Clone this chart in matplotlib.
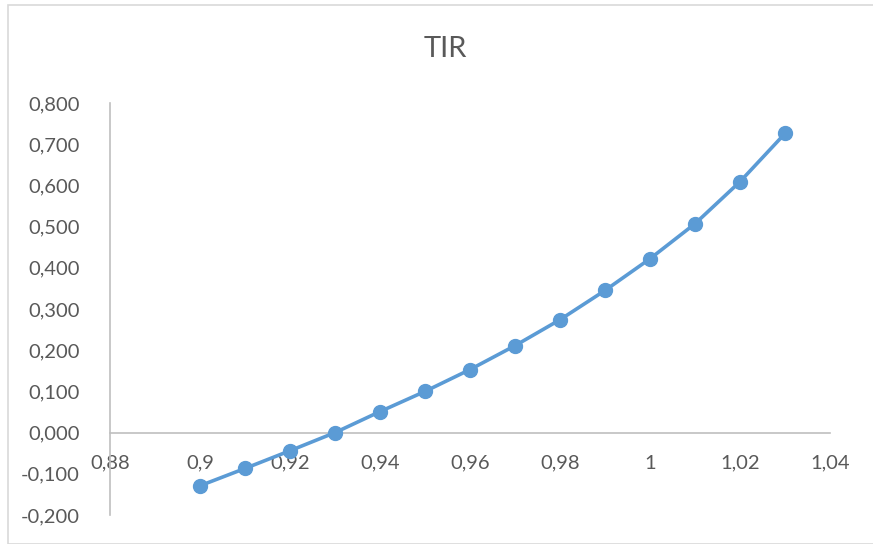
import matplotlib
matplotlib.use("Agg")
import matplotlib.pyplot as plt
from matplotlib.patches import Rectangle
from matplotlib.ticker import FuncFormatter, MultipleLocator

# ===================== 数据 =====================
x_vals = [0.90, 0.91, 0.92, 0.93, 0.94, 0.95, 0.96, 0.97, 0.98, 0.99, 1.00, 1.01, 1.02, 1.03]
tir = [-0.129, -0.087, -0.044, 0.000, 0.051, 0.100, 0.153, 0.211, 0.274, 0.345, 0.422, 0.507, 0.609, 0.726]
title = "TIR"

LINE = "#5B9BD5"
TXT = "#595959"
GRID = "#BFBFBF"

plt.rcParams['font.family'] = ['Lato', 'DejaVu Sans']

W, H = 873, 544
fig = plt.figure(figsize=(W / 100, H / 100), dpi=100)

# 外框
fig.patches.append(Rectangle((8 / W, 0), 1, 1 - 5 / H, transform=fig.transFigure,
                             fill=False, edgecolor="#D9D9D9", linewidth=1.2))

ax = fig.add_axes([110 / W, 1 - 515 / H, 720 / W, 412 / H])
ax.plot(x_vals, tir, color=LINE, linewidth=2.6, marker='o', markersize=10,
        markerfacecolor=LINE, markeredgecolor=LINE, zorder=3)

ax.set_xlim(0.88, 1.04)
ax.set_ylim(-0.2, 0.8)
ax.xaxis.set_major_locator(MultipleLocator(0.02))
ax.yaxis.set_major_locator(MultipleLocator(0.1))


def fmt_x(v, _):
    s = f"{v:.2f}".rstrip('0').rstrip('.')
    return s.replace('.', ',')


def fmt_y(v, _):
    return f"{v:.3f}".replace('.', ',').replace('-0,000', '0,000')


ax.xaxis.set_major_formatter(FuncFormatter(fmt_x))
ax.yaxis.set_major_formatter(FuncFormatter(fmt_y))

for side in ('top', 'right'):
    ax.spines[side].set_visible(False)
ax.spines['bottom'].set_position(('data', 0))
ax.spines['bottom'].set_color(GRID)
ax.spines['left'].set_color(GRID)
ax.spines['bottom'].set_linewidth(1.2)
ax.spines['left'].set_linewidth(1.2)

ax.tick_params(axis='both', length=0, labelsize=14.5, labelcolor=TXT)
ax.tick_params(axis='x', pad=16)
ax.tick_params(axis='y', pad=22)

fig.text(445 / W, 1 - 49 / H, title, ha='center', va='center', fontsize=21, color=TXT)

fig.savefig("out.png", dpi=100, facecolor="white")
